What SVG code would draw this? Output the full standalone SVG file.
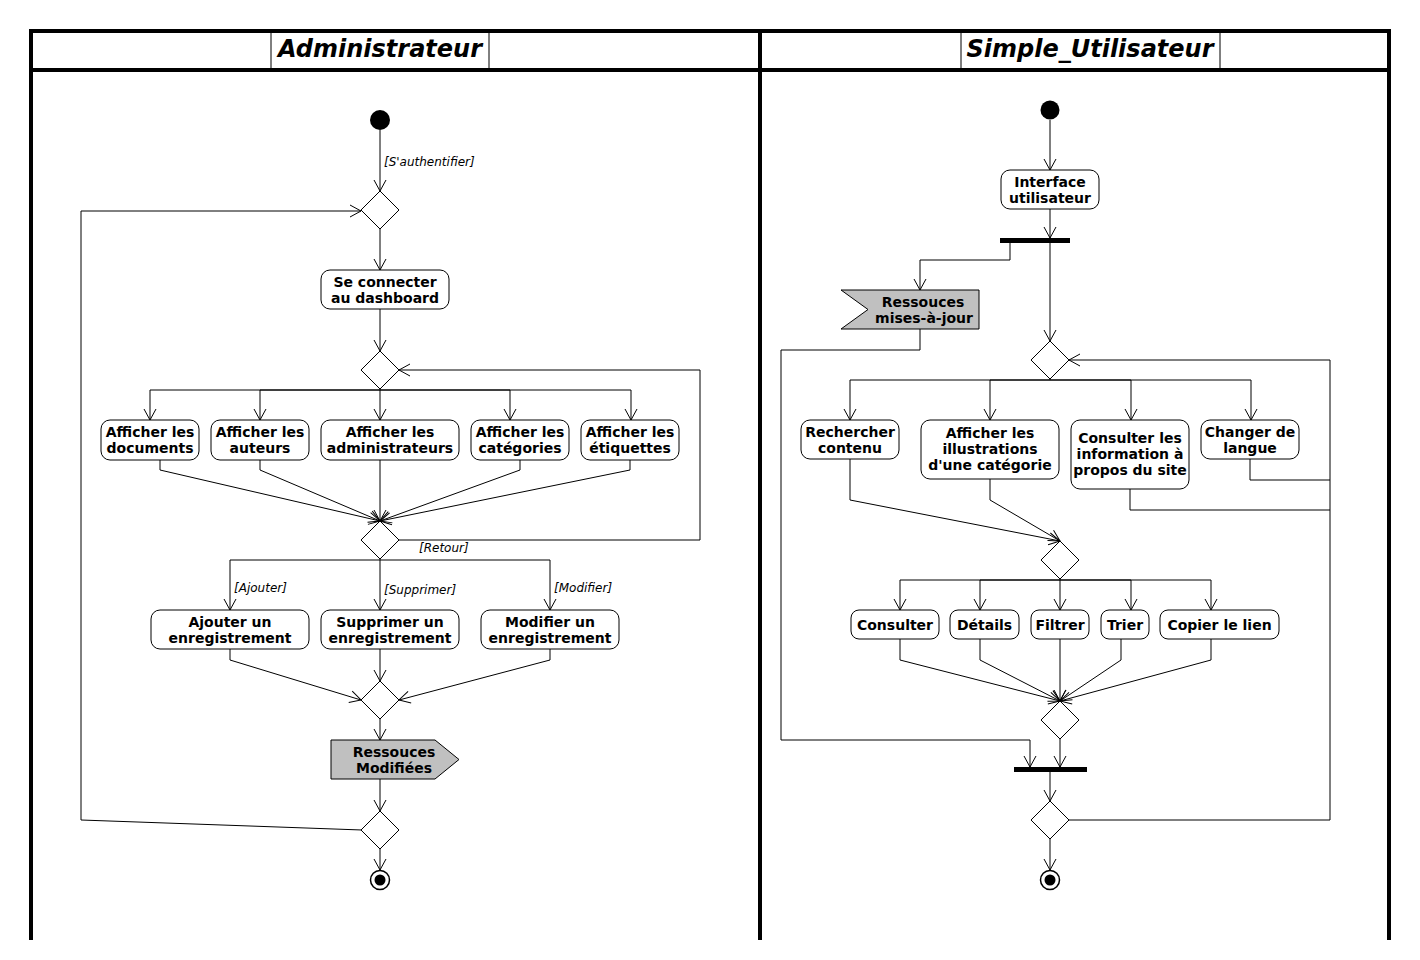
<svg xmlns="http://www.w3.org/2000/svg" width="1420" height="960" viewBox="0 0 1420 960">
<style>
.ln{fill:none;stroke:#000;stroke-width:1}
.act{fill:#fff;stroke:#000;stroke-width:1}
.dia{fill:#fff;stroke:#000;stroke-width:1}
.sig{fill:#c0c0c0;stroke:#000;stroke-width:1}
.fr{fill:none;stroke:#000;stroke-width:4}
.thin{fill:none;stroke:#000;stroke-width:1}
.t{font-family:"DejaVu Sans","Liberation Sans",sans-serif;font-weight:bold;font-size:14px;text-anchor:middle;fill:#000}
.g{font-family:"DejaVu Sans","Liberation Sans",sans-serif;font-style:italic;font-size:12px;fill:#000}
.h{font-family:"DejaVu Sans","Liberation Sans",sans-serif;font-style:italic;font-weight:bold;font-size:24px;text-anchor:middle;fill:#000}
</style>
<defs>
<marker id="arr" markerUnits="userSpaceOnUse" markerWidth="14" markerHeight="14" viewBox="-1 -1 14 14" refX="11" refY="6" orient="auto" overflow="visible">
<path d="M0,0 L11,6 L0,12" fill="none" stroke="#000" stroke-width="1"/>
</marker>
</defs>
<rect width="1420" height="960" fill="#fff"/>
<g id="frame">
<path class="fr" d="M29,31 H1391 M31,70 H1389 M31,29 V940 M760,31 V940 M1389,29 V940"/>
<path class="thin" d="M271,31 V70 M489,31 V70 M961,31 V70 M1220,31 V70"/>
<text class="h" x="380" y="57">Administrateur</text>
<text class="h" x="1090" y="57">Simple_Utilisateur</text>
</g>
<g id="connectors">
<path class="ln" marker-end="url(#arr)" d="M380,130 V191"/>
<path class="ln" marker-end="url(#arr)" d="M362,830 L81,820 V211 H361"/>
<path class="ln" marker-end="url(#arr)" d="M380,229 V270"/>
<path class="ln" marker-end="url(#arr)" d="M380,309 V351"/>
<path class="ln" d="M380,389 V390"/>
<path class="ln" marker-end="url(#arr)" d="M380,390 H150 V420"/>
<path class="ln" marker-end="url(#arr)" d="M380,390 H260 V420"/>
<path class="ln" marker-end="url(#arr)" d="M380,390 V420"/>
<path class="ln" marker-end="url(#arr)" d="M380,390 H510 V420"/>
<path class="ln" marker-end="url(#arr)" d="M380,390 H631 V420"/>
<path class="ln" marker-end="url(#arr)" d="M160,460 V470 L380,521"/>
<path class="ln" marker-end="url(#arr)" d="M260,460 V470 L380,521"/>
<path class="ln" marker-end="url(#arr)" d="M380,460 V521"/>
<path class="ln" marker-end="url(#arr)" d="M520,460 V470 L380,521"/>
<path class="ln" marker-end="url(#arr)" d="M630,460 V470 L380,521"/>
<path class="ln" marker-end="url(#arr)" d="M399,540 H700 V370 H399"/>
<text class="g" x="419" y="552">[Retour]</text>
<path class="ln" d="M380,559 V560"/>
<path class="ln" marker-end="url(#arr)" d="M380,560 H230 V610"/>
<path class="ln" marker-end="url(#arr)" d="M380,560 V610"/>
<path class="ln" marker-end="url(#arr)" d="M380,560 H550 V610"/>
<text class="g" x="234" y="592">[Ajouter]</text>
<text class="g" x="384" y="594">[Supprimer]</text>
<text class="g" x="554" y="592">[Modifier]</text>
<text class="g" x="384" y="166">[S'authentifier]</text>
<path class="ln" marker-end="url(#arr)" d="M230,649 V660 L361,700"/>
<path class="ln" marker-end="url(#arr)" d="M380,649 V681"/>
<path class="ln" marker-end="url(#arr)" d="M550,649 V660 L399,700"/>
<path class="ln" marker-end="url(#arr)" d="M380,719 V740"/>
<path class="ln" marker-end="url(#arr)" d="M380,779 V811"/>
<path class="ln" marker-end="url(#arr)" d="M380,849 V870"/>

<path class="ln" marker-end="url(#arr)" d="M1050,120 V170"/>
<path class="ln" marker-end="url(#arr)" d="M1050,209 V238"/>
<path class="ln" marker-end="url(#arr)" d="M1010,243 V260 H920 V290"/>
<path class="ln" marker-end="url(#arr)" d="M1050,243 V341"/>
<path class="ln" marker-end="url(#arr)" d="M920,329 V350 H781 V740 H1030 V767"/>
<path class="ln" marker-end="url(#arr)" d="M1069,820 H1330 V360 H1069"/>
<path class="ln" d="M1130,489 V510 H1330 M1250,459 V480 H1330"/>
<path class="ln" d="M1050,379 V380"/>
<path class="ln" marker-end="url(#arr)" d="M1050,380 H850 V420"/>
<path class="ln" marker-end="url(#arr)" d="M1050,380 H990 V420"/>
<path class="ln" marker-end="url(#arr)" d="M1050,380 H1131 V420"/>
<path class="ln" marker-end="url(#arr)" d="M1050,380 H1251 V420"/>
<path class="ln" marker-end="url(#arr)" d="M850,459 V500 L1060,541"/>
<path class="ln" marker-end="url(#arr)" d="M990,479 V500 L1060,541"/>
<path class="ln" d="M1060,579 V580"/>
<path class="ln" marker-end="url(#arr)" d="M1060,580 H900 V610"/>
<path class="ln" marker-end="url(#arr)" d="M1060,580 H980 V610"/>
<path class="ln" marker-end="url(#arr)" d="M1060,580 V610"/>
<path class="ln" marker-end="url(#arr)" d="M1060,580 H1131 V610"/>
<path class="ln" marker-end="url(#arr)" d="M1060,580 H1211 V610"/>
<path class="ln" marker-end="url(#arr)" d="M900,639 V660 L1060,701"/>
<path class="ln" marker-end="url(#arr)" d="M980,639 V660 L1060,701"/>
<path class="ln" marker-end="url(#arr)" d="M1060,639 V701"/>
<path class="ln" marker-end="url(#arr)" d="M1121,639 V660 L1060,701"/>
<path class="ln" marker-end="url(#arr)" d="M1211,639 V660 L1060,701"/>
<path class="ln" marker-end="url(#arr)" d="M1060,739 V767"/>
<path class="ln" marker-end="url(#arr)" d="M1050,772 V801"/>
<path class="ln" marker-end="url(#arr)" d="M1050,839 V870"/>
</g>

<g id="start_admin"><circle cx="380" cy="120" r="10" fill="#000"/></g>
<g id="dec_a1"><polygon class="dia" points="380,191 399,210 380,229 361,210"/></g>
<g id="se_connecter"><rect class="act" x="321" y="270" width="128" height="39" rx="9"/>
<text class="t" x="385" y="287">Se connecter</text><text class="t" x="385" y="303">au dashboard</text></g>
<g id="dec_a2"><polygon class="dia" points="380,351 399,370 380,389 361,370"/></g>
<g id="aff_docs"><rect class="act" x="101" y="420" width="98" height="40" rx="9"/>
<text class="t" x="150" y="437">Afficher les</text><text class="t" x="150" y="453">documents</text></g>
<g id="aff_auteurs"><rect class="act" x="211" y="420" width="98" height="40" rx="9"/>
<text class="t" x="260" y="437">Afficher les</text><text class="t" x="260" y="453">auteurs</text></g>
<g id="aff_admins"><rect class="act" x="321" y="420" width="138" height="40" rx="9"/>
<text class="t" x="390" y="437">Afficher les</text><text class="t" x="390" y="453">administrateurs</text></g>
<g id="aff_cats"><rect class="act" x="471" y="420" width="98" height="40" rx="9"/>
<text class="t" x="520" y="437">Afficher les</text><text class="t" x="520" y="453">catégories</text></g>
<g id="aff_etiq"><rect class="act" x="581" y="420" width="98" height="40" rx="9"/>
<text class="t" x="630" y="437">Afficher les</text><text class="t" x="630" y="453">étiquettes</text></g>
<g id="dec_a3"><polygon class="dia" points="380,521 399,540 380,559 361,540"/></g>
<g id="ajouter"><rect class="act" x="151" y="610" width="158" height="39" rx="9"/>
<text class="t" x="230" y="627">Ajouter un</text><text class="t" x="230" y="643">enregistrement</text></g>
<g id="supprimer"><rect class="act" x="321" y="610" width="138" height="39" rx="9"/>
<text class="t" x="390" y="627">Supprimer un</text><text class="t" x="390" y="643">enregistrement</text></g>
<g id="modifier"><rect class="act" x="481" y="610" width="138" height="39" rx="9"/>
<text class="t" x="550" y="627">Modifier un</text><text class="t" x="550" y="643">enregistrement</text></g>
<g id="dec_a4"><polygon class="dia" points="380,681 399,700 380,719 361,700"/></g>
<g id="res_modifiees"><polygon class="sig" points="331,740 435,740 459,759.5 435,779 331,779"/>
<text class="t" x="394" y="757">Ressouces</text><text class="t" x="394" y="773">Modifiées</text></g>
<g id="dec_a5"><polygon class="dia" points="380,811 399,830 380,849 361,830"/></g>
<g id="end_admin"><circle cx="380" cy="880" r="9.5" fill="#fff" stroke="#000" stroke-width="1.5"/><circle cx="380" cy="880" r="5.5" fill="#000"/></g>

<g id="start_user"><circle cx="1050" cy="110" r="9.5" fill="#000"/></g>
<g id="interface"><rect class="act" x="1001" y="170" width="98" height="39" rx="9"/>
<text class="t" x="1050" y="187">Interface</text><text class="t" x="1050" y="203">utilisateur</text></g>
<g id="fork1"><rect x="1000" y="238" width="70" height="5" fill="#000"/></g>
<g id="res_maj"><polygon class="sig" points="841,290 979,290 979,329 841,329 868,309.5"/>
<text class="t" x="923" y="307">Ressouces</text><text class="t" x="924" y="323">mises-à-jour</text></g>
<g id="dec_u1"><polygon class="dia" points="1050,341 1069,360 1050,379 1031,360"/></g>
<g id="rechercher"><rect class="act" x="801" y="420" width="98" height="39" rx="9"/>
<text class="t" x="850" y="437">Rechercher</text><text class="t" x="850" y="453">contenu</text></g>
<g id="illustrations"><rect class="act" x="921" y="420" width="138" height="59" rx="9"/>
<text class="t" x="990" y="438">Afficher les</text><text class="t" x="990" y="454">illustrations</text><text class="t" x="990" y="470">d'une catégorie</text></g>
<g id="consulter_info"><rect class="act" x="1071" y="420" width="118" height="69" rx="9"/>
<text class="t" x="1130" y="443">Consulter les</text><text class="t" x="1130" y="459">information à</text><text class="t" x="1130" y="475">propos du site</text></g>
<g id="changer_langue"><rect class="act" x="1201" y="420" width="98" height="39" rx="9"/>
<text class="t" x="1250" y="437">Changer de</text><text class="t" x="1250" y="453">langue</text></g>
<g id="dec_u2"><polygon class="dia" points="1060,541 1079,560 1060,579 1041,560"/></g>
<g id="consulter"><rect class="act" x="851" y="610" width="88" height="29" rx="8"/><text class="t" x="895" y="630">Consulter</text></g>
<g id="details"><rect class="act" x="950" y="610" width="69" height="29" rx="8"/><text class="t" x="984.5" y="630">Détails</text></g>
<g id="filtrer"><rect class="act" x="1031" y="610" width="58" height="29" rx="8"/><text class="t" x="1060" y="630">Filtrer</text></g>
<g id="trier"><rect class="act" x="1101" y="610" width="48" height="29" rx="8"/><text class="t" x="1125" y="630">Trier</text></g>
<g id="copier"><rect class="act" x="1160" y="610" width="119" height="29" rx="8"/><text class="t" x="1219.5" y="630">Copier le lien</text></g>
<g id="dec_u3"><polygon class="dia" points="1060,701 1079,720 1060,739 1041,720"/></g>
<g id="join1"><rect x="1014" y="767" width="73" height="5" fill="#000"/></g>
<g id="dec_u4"><polygon class="dia" points="1050,801 1069,820 1050,839 1031,820"/></g>
<g id="end_user"><circle cx="1050" cy="880" r="9.5" fill="#fff" stroke="#000" stroke-width="1.5"/><circle cx="1050" cy="880" r="5.5" fill="#000"/></g>
</svg>
